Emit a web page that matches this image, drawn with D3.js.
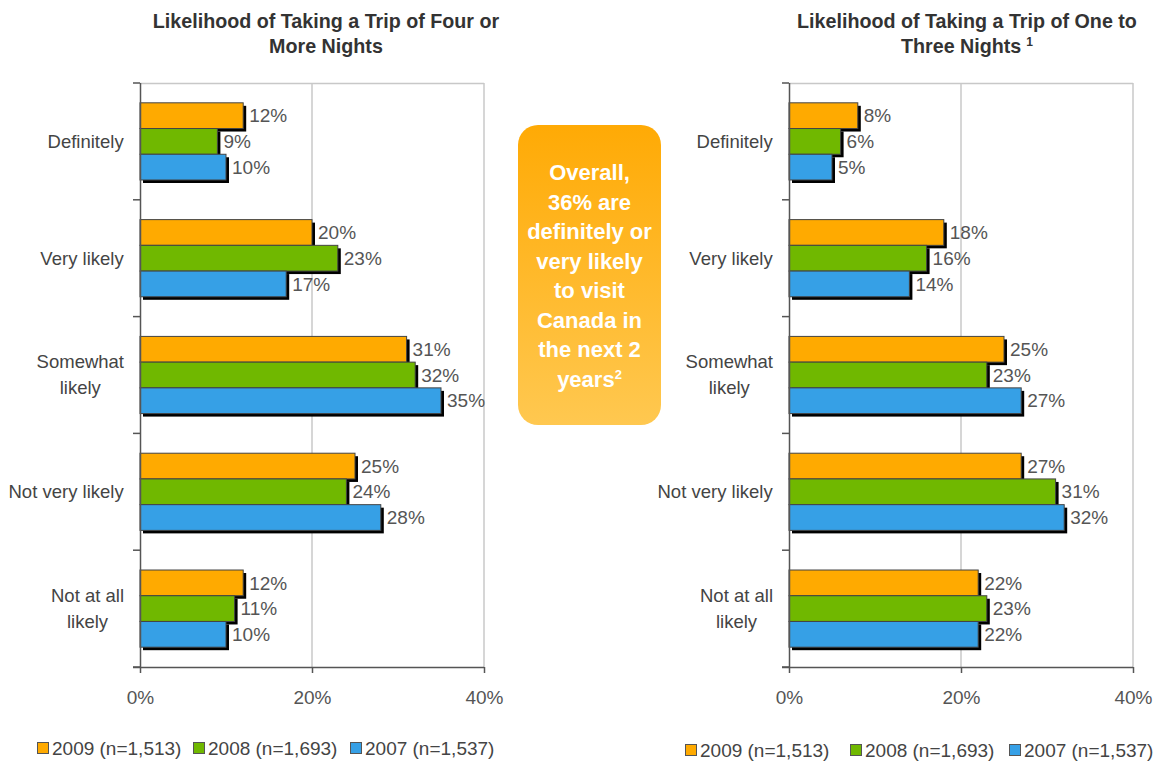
<!DOCTYPE html>
<html>
<head>
<meta charset="utf-8">
<script src="https://cdn.jsdelivr.net/npm/d3@7"></script>
<style>
  body { margin: 0; background: #fff; }
  svg { font-family: "Liberation Sans", Arial, sans-serif; }
</style>
</head>
<body>
<div id="vis"></div>
<script>
var categories = ["Definitely", "Very likely", "Somewhat likely", "Not very likely", "Not at all likely"];
var categoryLines = [["Definitely"], ["Very likely"], ["Somewhat", "likely"], ["Not very likely"], ["Not at all", "likely"]];
var keys = ["2009", "2008", "2007"];
var legendLabels = ["2009 (n=1,513)", "2008 (n=1,693)", "2007 (n=1,537)"];
var colors = ["#ffaa00", "#70b800", "#36a0e6"];
var xTicks = [0, 20, 40];

// four or more nights, per category: 2009, 2008, 2007
var fourPlus2009 = [12, 20, 31, 25, 12];
var fourPlus2008 = [9, 23, 32, 24, 11];
var fourPlus2007 = [10, 17, 35, 28, 10];

// one to three nights
var oneToThree2009 = [8, 18, 25, 27, 22];
var oneToThree2008 = [6, 16, 23, 31, 23];
var oneToThree2007 = [5, 14, 27, 32, 22];

var calloutLines = ["Overall,", "36% are", "definitely or", "very likely", "to visit", "Canada in", "the next 2", "years"];

var svg = d3.select("#vis").append("svg")
  .attr("width", 1167)
  .attr("height", 761);

var defs = svg.append("defs");
var grad = defs.append("linearGradient")
  .attr("id", "boxGrad")
  .attr("x1", 0).attr("y1", 0).attr("x2", 0).attr("y2", 1);
grad.append("stop").attr("offset", "0%").attr("stop-color", "#ffaa05");
grad.append("stop").attr("offset", "100%").attr("stop-color", "#ffc850");

function buildRows(a, b, c) {
  return categories.map(function(cat, i) {
    return {cat: cat, lines: categoryLines[i], values: {"2009": a[i], "2008": b[i], "2007": c[i]}};
  });
}

function drawPanel(opts) {
  var width = 344, height = 584;
  var g = svg.append("g")
    .attr("transform", "translate(" + opts.left + "," + opts.top + ")");

  var x = d3.scaleLinear().domain([0, 40]).range([0, width]);
  var y0 = d3.scaleBand().domain(categories).range([0, height]);
  var y1 = d3.scaleBand().domain(keys).range([0, y0.bandwidth()]).paddingOuter(0.77);
  var z = d3.scaleOrdinal().domain(keys).range(colors);

  // frame + grid
  g.append("line").attr("x1", 0).attr("x2", width).attr("y1", 0.5).attr("y2", 0.5)
    .attr("stroke", "#c8c8c8").attr("stroke-width", 1.5);
  g.selectAll(".grid").data(xTicks.slice(1)).enter().append("line")
    .attr("x1", function(d) { return x(d); }).attr("x2", function(d) { return x(d); })
    .attr("y1", 0).attr("y2", height)
    .attr("stroke", "#c8c8c8").attr("stroke-width", 1.5);

  var rows = buildRows(opts.a, opts.b, opts.c);

  var groups = g.selectAll(".cat").data(rows).enter().append("g")
    .attr("transform", function(d) { return "translate(0," + y0(d.cat) + ")"; });

  var bars = groups.selectAll(".bar")
    .data(function(d) { return keys.map(function(k) { return {key: k, value: d.values[k]}; }); })
    .enter().append("g");

  // drop shadow
  bars.append("rect")
    .attr("x", 3)
    .attr("y", function(d) { return y1(d.key) + 3; })
    .attr("width", function(d) { return x(d.value); })
    .attr("height", y1.bandwidth())
    .attr("fill", "#000");

  bars.append("rect")
    .attr("x", 0)
    .attr("y", function(d) { return y1(d.key); })
    .attr("width", function(d) { return x(d.value); })
    .attr("height", y1.bandwidth())
    .attr("fill", function(d) { return z(d.key); })
    .attr("stroke", "#444")
    .attr("stroke-width", 1);

  bars.append("text")
    .attr("x", function(d) { return x(d.value) + 6; })
    .attr("y", function(d) { return y1(d.key) + y1.bandwidth() / 2; })
    .attr("dy", "0.35em")
    .attr("font-size", 19)
    .attr("fill", "#555")
    .text(function(d) { return d.value + "%"; });

  // y axis
  g.append("line").attr("x1", 0.5).attr("x2", 0.5).attr("y1", 0).attr("y2", height)
    .attr("stroke", "#555").attr("stroke-width", 1.5);
  var bounds = categories.map(function(c) { return y0(c); }).concat([height]);
  g.selectAll(".ytick").data(bounds).enter().append("line")
    .attr("x1", -7).attr("x2", 0)
    .attr("y1", function(d) { return d; }).attr("y2", function(d) { return d; })
    .attr("stroke", "#555").attr("stroke-width", 1.5);

  // category labels
  groups.each(function(d) {
    var grp = d3.select(this);
    var cy = y0.bandwidth() / 2;
    var n = d.lines.length;
    var t = grp.append("text")
      .attr("font-size", 18.5)
      .attr("fill", "#444")
      .attr("text-anchor", "middle");
    d.lines.forEach(function(line, i) {
      t.append("tspan").attr("x", 0)
        .attr("y", cy + (i - (n - 1) / 2) * 26)
        .attr("dy", "0.35em")
        .text(line);
    });
    var w = t.node().getBBox().width;
    t.selectAll("tspan").attr("x", -16 - w / 2);
  });

  // x axis
  var xAxis = g.append("g")
    .attr("transform", "translate(0," + height + ")")
    .call(d3.axisBottom(x).tickValues(xTicks).tickSize(6).tickPadding(18)
      .tickFormat(function(d) { return d + "%"; }));
  xAxis.select(".domain").attr("stroke", "#555").attr("stroke-width", 1.5)
    .attr("d", "M-7,0.5H" + width);
  xAxis.selectAll(".tick line").attr("stroke", "#555").attr("stroke-width", 1.5);
  xAxis.selectAll(".tick text").attr("font-size", 19).attr("fill", "#555")
    .attr("font-family", "Liberation Sans, Arial, sans-serif");

  // title
  var title = svg.append("text")
    .attr("font-size", 19.7)
    .attr("font-weight", "bold")
    .attr("fill", "#333")
    .attr("text-anchor", "middle");
  title.append("tspan").attr("x", opts.titleX).attr("y", 28).text(opts.title[0]);
  title.append("tspan").attr("x", opts.titleX).attr("y", 53).text(opts.title[1]);
  if (opts.sup) {
    title.append("tspan").attr("dx", 5).attr("dy", -7).attr("font-size", 12).text(opts.sup);
  }

  // legend
  var legend = svg.append("g")
    .attr("transform", "translate(0," + opts.legendY + ")");
  var items = legend.selectAll(".leg").data(keys).enter().append("g")
    .attr("transform", function(d, i) { return "translate(" + opts.legendX[i] + ",0)"; });
  items.append("rect")
    .attr("x", 0.5).attr("y", -5.5)
    .attr("width", 11).attr("height", 11)
    .attr("fill", function(d) { return z(d); })
    .attr("stroke", "#555");
  items.append("text")
    .attr("x", 15)
    .attr("dy", "0.35em")
    .attr("font-size", 19)
    .attr("fill", "#444")
    .text(function(d, i) { return legendLabels[i]; });
}

drawPanel({
  left: 140, top: 83,
  a: fourPlus2009, b: fourPlus2008, c: fourPlus2007,
  title: ["Likelihood of Taking a Trip of Four or", "More Nights"],
  titleX: 326,
  legendY: 748, legendX: [37, 193, 350]
});

drawPanel({
  left: 789, top: 83,
  a: oneToThree2009, b: oneToThree2008, c: oneToThree2007,
  title: ["Likelihood of Taking a Trip of One to", "Three Nights"],
  titleX: 967,
  sup: "1",
  legendY: 750, legendX: [685, 850, 1009]
});

// callout box
var box = svg.append("g").attr("transform", "translate(518,125)");
box.append("rect")
  .attr("width", 143).attr("height", 300)
  .attr("rx", 20).attr("ry", 20)
  .attr("fill", "url(#boxGrad)");
var ct = box.append("text")
  .attr("text-anchor", "middle")
  .attr("font-size", 22)
  .attr("font-weight", "bold")
  .attr("fill", "#fff");
calloutLines.forEach(function(line, i) {
  ct.append("tspan").attr("x", 71.5).attr("y", 55 + i * 29.5).text(line);
});
ct.append("tspan").attr("dy", -8).attr("font-size", 13).text("2");
</script>
</body>
</html>
